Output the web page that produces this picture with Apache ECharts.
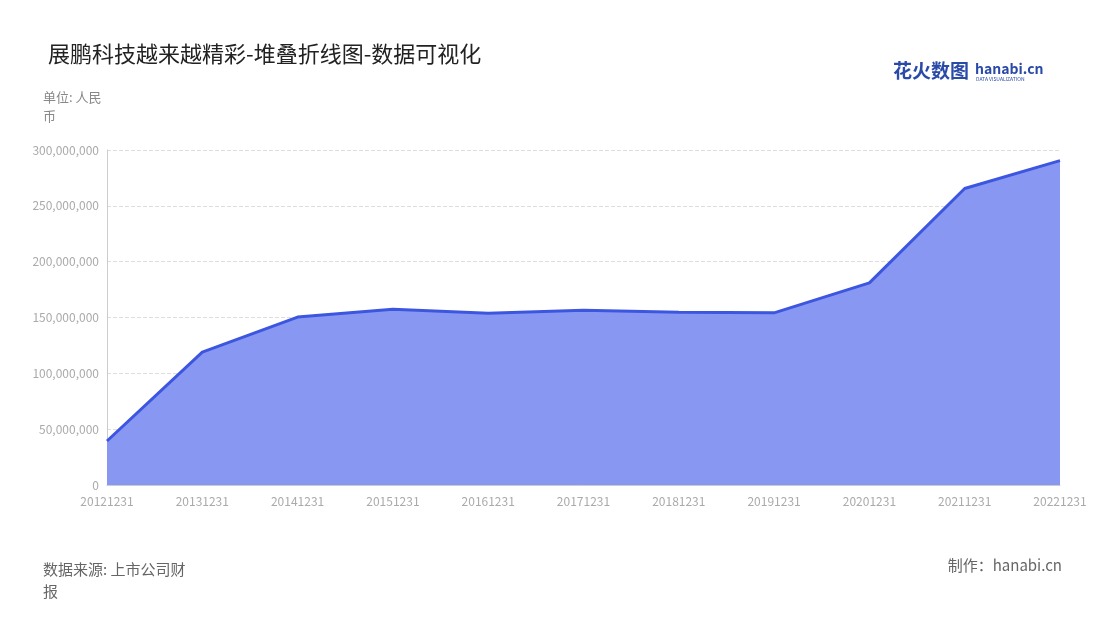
<!DOCTYPE html>
<html>
<head>
<meta charset="utf-8">
<script src="https://cdn.jsdelivr.net/npm/echarts@6/dist/echarts.min.js"></script>
<style>
  html, body { margin: 0; padding: 0; background: #fff; }
  #main-chart { width: 1100px; height: 620px; }
</style>
</head>
<body>
<div id="main-chart"></div>
<script>
// data
const years = ['20121231', '20131231', '20141231', '20151231', '20161231', '20171231',
    '20181231', '20191231', '20201231', '20211231', '20221231'];
const revenue = [39400000, 119000000, 150400000, 157300000, 153800000, 156500000,
    154600000, 154200000, 181000000, 265500000, 290500000];

const chartFont = '"Noto Sans CJK SC", "Noto Sans", sans-serif';
const mainChart = echarts.init(document.getElementById('main-chart'));

mainChart.setOption({
    textStyle: { fontFamily: chartFont },
    title: {
        text: '展鹏科技越来越精彩-堆叠折线图-数据可视化',
        left: 43, top: 38,
        textStyle: { fontSize: 22, fontWeight: 'normal', color: '#222' }
    },
    graphic: [
        { type: 'text', left: 43, top: 88, style: { text: '单位: 人民\n币', fill: '#888', font: '13px ' + chartFont, lineHeight: 19 } },
        { type: 'text', left: 43, top: 558, style: { text: '数据来源: 上市公司财\n报', fill: '#666', font: '15px ' + chartFont, lineHeight: 22 } },
        { type: 'text', right: 38, top: 558, style: { text: '制作：hanabi.cn', fill: '#666', font: '15px ' + chartFont } },
        { type: 'text', left: 893, top: 61, style: { text: '花火数图', fill: '#2a4aa8', font: 'bold 19px ' + chartFont } },
        { type: 'text', left: 975, top: 62, style: { text: 'hanabi.cn', fill: '#2a4aa8', font: 'bold 14px ' + chartFont } },
        { type: 'text', left: 976, top: 77, style: { text: 'DATA VISUALIZATION', fill: '#2a4aa8', font: '5px ' + chartFont } }
    ],
    grid: { left: 107, right: 40, top: 150, bottom: 135 },
    xAxis: {
        type: 'category',
        data: years,
        boundaryGap: false,
        axisLine: { lineStyle: { color: '#ccc' } },
        axisTick: { show: false },
        axisLabel: { color: '#aaa', fontSize: 12, margin: 10 }
    },
    yAxis: {
        type: 'value',
        min: 0, max: 300000000, interval: 50000000,
        axisLine: { show: true, lineStyle: { color: '#ccc' } },
        splitLine: { lineStyle: { type: 'dashed', color: '#ddd' } },
        axisLabel: {
            color: '#aaa', fontSize: 12,
            formatter: v => v.toLocaleString('en-US')
        }
    },
    series: [{
        type: 'line',
        data: revenue,
        symbol: 'none',
        lineStyle: { color: '#3d56e0', width: 3 },
        areaStyle: { color: '#8898f2', opacity: 1 }
    }]
});
</script>
</body>
</html>
